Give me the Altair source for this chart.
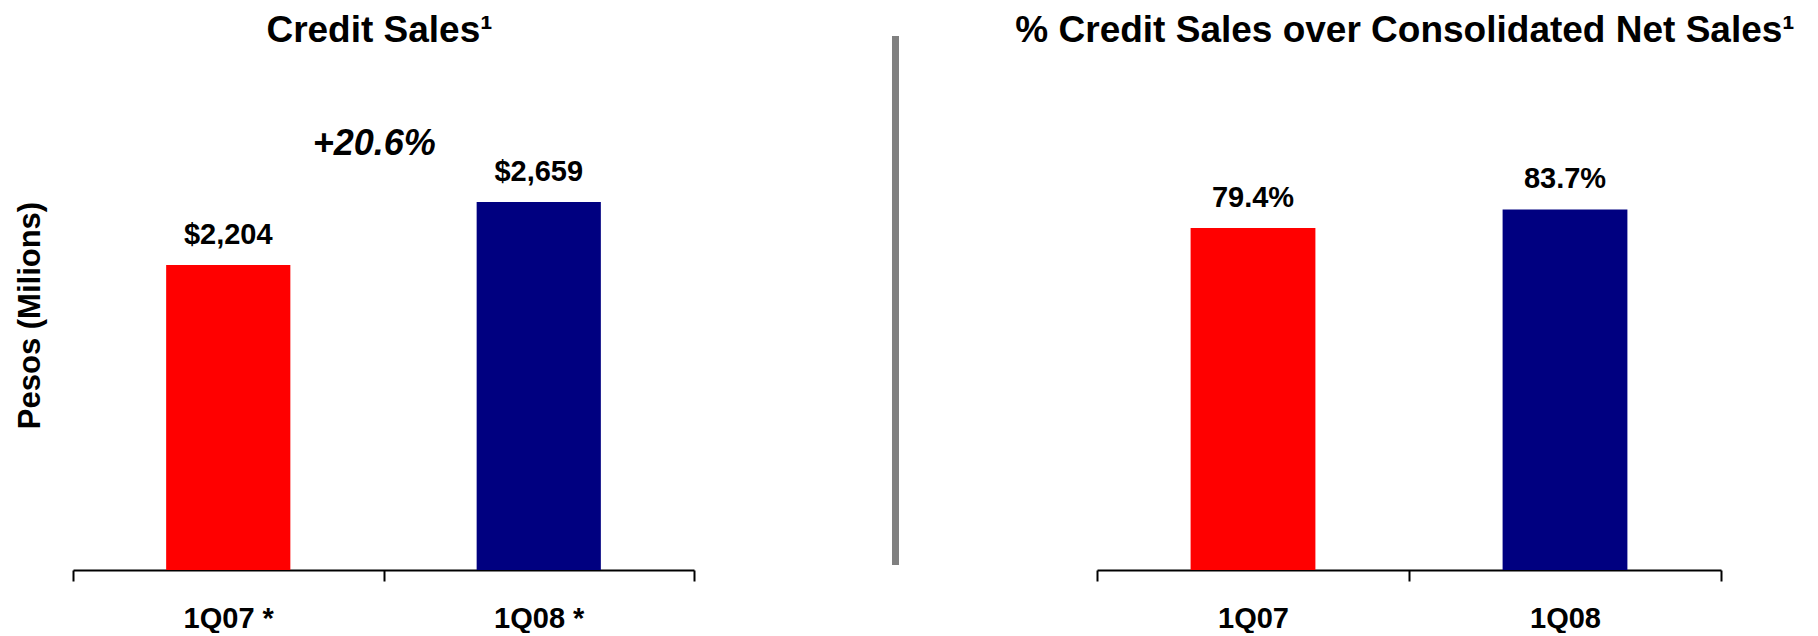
import altair as alt
import pandas as pd

FONT = "Liberation Sans"

quarters_left = ["1Q07 *", "1Q08 *"]
credit_sales = [2204, 2659]          # Pesos (millions)
quarters_right = ["1Q07", "1Q08"]
credit_pct = [79.4, 83.7]            # % of consolidated net sales
bar_colors = ["#FF0000", "#000080"]

H = 510
left_df = pd.DataFrame({"quarter": quarters_left, "value": credit_sales})
right_df = pd.DataFrame({"quarter": quarters_right, "pct": credit_pct})

growth = (credit_sales[1] / credit_sales[0] - 1) * 100
growth_df = pd.DataFrame({"quarter": [quarters_left[0]], "y": [3000],
                          "label": [f"+{growth:.1f}%"]})

x_axis = alt.Axis(title=None, labelAngle=0, labelFontSize=29, labelFontWeight="bold",
                  labelFont=FONT, labelColor="black", labelPadding=23,
                  domainColor="black", domainWidth=2, tickColor="black",
                  tickWidth=2, tickSize=11, tickBand="extent", grid=False)

band = alt.Scale(paddingInner=0, paddingOuter=0)

# ---------- left panel ----------
xl = alt.X("quarter:N", sort=quarters_left, scale=band, axis=x_axis)
yl_scale = alt.Scale(domain=[0, 3685], nice=False, zero=True)

left_bars = alt.Chart(left_df).mark_bar(width=alt.RelativeBandSize(0.4)).encode(
    x=xl,
    y=alt.Y("value:Q", scale=yl_scale,
            axis=alt.Axis(title="Pesos (Milions)", titleFontSize=31, titleFont=FONT,
                          titleFontWeight="bold", titleColor="black", labels=False,
                          ticks=False, domain=False, grid=False, titlePadding=27)),
    color=alt.Color("quarter:N", sort=quarters_left,
                    scale=alt.Scale(domain=quarters_left, range=bar_colors), legend=None),
)
left_labels = alt.Chart(left_df).mark_text(
    fontSize=29, fontWeight="bold", font=FONT, color="black", dy=-21, baseline="alphabetic"
).encode(x=xl, y=alt.Y("value:Q", scale=yl_scale),
         text=alt.Text("value:Q", format="$,.0f"))
growth_text = alt.Chart(growth_df).mark_text(
    fontSize=36, fontWeight="bold", fontStyle="italic", font=FONT, color="black",
    dx=146, baseline="alphabetic"
).encode(x=xl, y=alt.Y("y:Q", scale=yl_scale), text="label:N")

left = alt.layer(left_bars, left_labels, growth_text).properties(
    width=621, height=H,
    title=alt.TitleParams("Credit Sales¹", fontSize=37, fontWeight="bold", font=FONT,
                          color="black", anchor="middle", baseline="alphabetic",
                          offset=18, dx=-4, dy=37),
)

# ---------- separator ----------
sep = alt.Chart(pd.DataFrame({"k": [0]})).mark_rule(color="#808080", strokeWidth=7).encode(
    x=alt.value(3.5), y=alt.value(-24), y2=alt.value(H - 5)
).properties(width=7, height=H)

# ---------- right panel ----------
xr = alt.X("quarter:N", sort=quarters_right, scale=band, axis=x_axis)
yr_scale = alt.Scale(domain=[0, 118.4], nice=False, zero=True)

right_bars = alt.Chart(right_df).mark_bar(width=alt.RelativeBandSize(0.4)).encode(
    x=xr,
    y=alt.Y("pct:Q", scale=yr_scale, axis=None),
    color=alt.Color("quarter:N", sort=quarters_right,
                    scale=alt.Scale(domain=quarters_right, range=bar_colors), legend=None),
)
right_labels = alt.Chart(right_df).transform_calculate(
    label="format(datum.pct, '.1f') + '%'"
).mark_text(
    fontSize=29, fontWeight="bold", font=FONT, color="black", dy=-21, baseline="alphabetic"
).encode(x=xr, y=alt.Y("pct:Q", scale=yr_scale), text="label:N")

right = alt.layer(right_bars, right_labels).properties(
    width=624, height=H,
    title=alt.TitleParams("% Credit Sales over Consolidated Net Sales¹", fontSize=37,
                          fontWeight="bold", font=FONT, color="black", anchor="middle",
                          baseline="alphabetic", offset=18, dx=-4, dy=37),
)

chart = alt.hconcat(left, sep, right, spacing=198, bounds="flush").resolve_scale(
    x="independent", y="independent", color="independent"
).properties(
    padding={"left": 14, "top": 12, "right": 5, "bottom": 0},
    background="white",
).configure_view(strokeWidth=0)

chart.save("out.html", embed_options={"renderer": "svg", "actions": False})
